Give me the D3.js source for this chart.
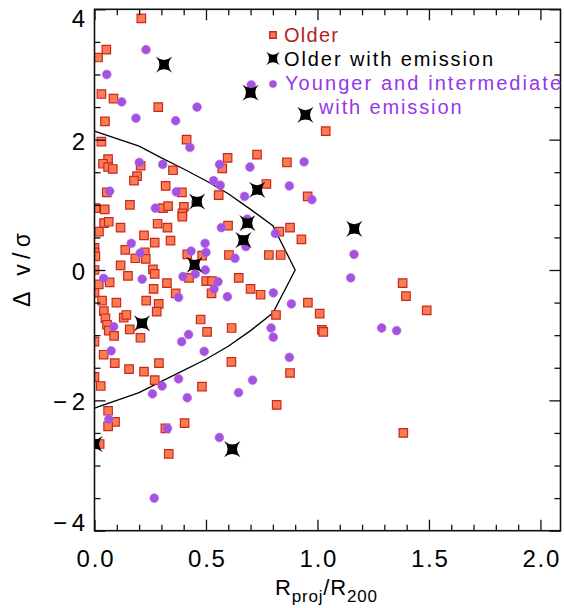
<!DOCTYPE html>
<html><head><meta charset="utf-8">
<script src="https://cdn.jsdelivr.net/npm/d3@7/dist/d3.min.js"></script>
<style>body{margin:0;background:#fff}svg{display:block}text{font-family:"Liberation Sans",Arial,sans-serif}</style>
</head><body><svg id="c" width="564" height="608"></svg>
<script>
// ---- data ----
const olderPts = [
[0.21,3.86],[0.053,3.38],[0.016,3.26],[0.031,2.70],[0.085,2.63],[0.286,2.50],[0.047,2.28],[0.031,1.97],[0.413,2.00],[0.729,1.77],
[0.597,1.72],[0.061,1.70],[0.038,1.63],[0.061,1.58],[0.082,1.55],[0.207,1.60],[0.352,1.53],[0.573,1.56],[0.863,1.65],[0.191,1.44],
[0.177,1.37],[0.319,1.29],[0.771,1.32],[0.055,1.19],[0.392,1.19],[0.557,1.15],[0.956,1.13],[0.004,0.95],[0.046,0.93],[0.159,1.00],
[0.307,0.95],[0.33,0.98],[0.401,0.97],[0.394,0.87],[0.394,0.82],[0.043,0.72],[0.064,0.74],[0.117,0.65],[0.283,0.71],[0.327,0.65],
[0.599,0.68],[0.02,0.59],[0.222,0.53],[0.877,0.65],[0.829,0.59],[0.928,0.47],[0.27,0.42],[0.341,0.45],[0,0.34],[0,0.27],
[0.004,0.21],[0.138,0.31],[0.226,0.27],[0.183,0.18],[0.23,0.17],[0.416,0.24],[0.483,0.22],[0.603,0.23],[0.782,0.23],[0.835,0.23],
[0.117,0.07],[0.262,0.01],
[0,0.0],[0.27,-0.06],[0.15,-0.09],[0.019,-0.22],[0.068,-0.19],[0,-0.35],[0.265,-0.29],[0.325,-0.20],[0.424,-0.12],[0.501,-0.17],
[0.527,-0.17],[0.525,-0.36],[0.647,-0.12],[0.70,-0.29],[0.745,-0.38],[0.364,-0.36],[0.034,-0.47],[0.098,-0.50],[0.232,-0.47],[0.288,-0.52],
[0.279,-0.64],[0.042,-0.63],[0.049,-0.74],[0.056,-0.84],[0.064,-0.93],[0.131,-0.73],[0.143,-0.69],[0.088,-1.01],[0.158,-0.91],[0.206,-1.04],
[0.476,-0.76],[0.505,-0.95],[0.615,-0.89],[0.814,-0.69],[0.957,-0.50],[1.01,-0.67],[0,-1.10],[0.041,-1.30],[0.091,-1.43],[0.155,-1.52],
[0.222,-1.56],[0.289,-1.43],[0.27,-1.69],[0,-1.64],[0.028,-1.78],[0.482,-1.79],[0.614,-1.41],[0.877,-1.58],[0.817,-2.07],[0.061,-2.16],
[0.092,-2.33],[0.061,-2.40],[0.318,-2.43],[0.404,-2.35],[0.023,-2.67],[0.333,-2.82],
[1.037,2.13],[1.382,-0.20],[1.397,-0.40],[1.49,-0.62],[1.02,-0.92],[1.026,-0.95],[1.385,-2.50]
];
const youngPts = [
[0.231,3.38],[0.055,3.00],[0.703,2.84],[0.122,2.58],[0.46,2.50],[0.186,2.33],[0.364,2.29],[0.428,1.88],[0.201,1.65],[0.306,1.62],
[0.561,1.62],[0.697,1.58],[0.94,1.66],[0.534,1.37],[0.564,1.30],[0.874,1.29],[0.068,1.21],[0.367,1.20],[0.673,1.13],[0.454,1.04],
[0.273,0.95],[0.685,0.78],[0.569,0.65],[0.811,0.56],[0.679,0.36],[0.165,0.41],[0.496,0.41],[0.205,0.26],[0.433,0.29],[0.5,0.27],
[0.63,0.18],[0.975,1.08],
[0.041,-0.13],[0.214,-0.14],[0.397,-0.10],[0.452,-0.06],[0.497,0.0],[0.554,-0.18],[0.536,-0.29],[0.377,-0.42],[0.596,-0.41],[0.802,-0.35],
[0.883,-0.52],[0.086,-0.87],[0.422,-0.99],[0.391,-1.10],[0.492,-1.25],[0.792,-0.89],[0.802,-1.03],[0.075,-1.24],[0.874,-1.34],[0.377,-1.67],
[0.303,-1.78],[0.26,-1.90],[0.416,-1.96],[0.646,-1.88],[0.709,-1.69],[0.064,-2.29],[0.327,-2.43],[0.56,-2.57],[0.268,-3.50],
[1.164,0.24],[1.149,-0.12],[1.288,-0.89],[1.355,-0.93]
];
const emissionPts = [
[0.312,3.15],[0.70,2.72],[0.946,2.38],[0.73,1.23],[0.46,1.05],[0.686,0.72],[0.668,0.46],[0.449,0.08],[1.165,0.63],[0.213,-0.82],
[0.0,-2.67],[0.618,-2.75]
];
const contourX = [0,0.2,0.3,0.4,0.5,0.6,0.7,0.8,0.9];
const contourUpper = [2.13,1.90,1.72,1.55,1.37,1.17,0.93,0.68,0];
const contourLower = [-2.12,-1.88,-1.71,-1.54,-1.37,-1.17,-0.93,-0.66,0];
const xTicks = [0,0.5,1,1.5,2];
const xTickLabels = ["0.0","0.5","1.0","1.5","2.0"];
const yTicks = [-4,-2,0,2,4];
const yTickLabels = ["\u22124","\u22122","0","2","4"];
const legendLabels = ["Older","Older with emission","Younger and intermediate","with emission"];

// ---- chart ----
const svg = d3.select("#c");
const xMax = 2.09;
const x = d3.scaleLinear().domain([0, xMax]).range([94.5, 560.5]);
const y = d3.scaleLinear().domain([-4, 4]).range([530.7, 9.3]);

const sqFill = "#ff7a4f", sqStroke = "#c42a23";
const circFill = "#a552e0";
// 4-pointed star with concave sides, tips on the diagonals
const starPath = (R, rc) => {
  const t = R / Math.SQRT2;
  const tips = [[t, t], [-t, t], [-t, -t], [t, -t]];
  const ctrl = [[0, rc], [-rc, 0], [0, -rc], [rc, 0]];
  let p = `M${tips[0][0].toFixed(2)},${tips[0][1].toFixed(2)}`;
  for (let i = 0; i < 4; i++) {
    const n = tips[(i + 1) % 4];
    p += `Q${ctrl[i][0].toFixed(2)},${ctrl[i][1].toFixed(2)} ${n[0].toFixed(2)},${n[1].toFixed(2)}`;
  }
  return p + "Z";
};

svg.append("defs").append("clipPath").attr("id", "clip").append("rect")
  .attr("x", x(0)).attr("y", y(4)).attr("width", x(xMax) - x(0)).attr("height", y(-4) - y(4));

const g = svg.append("g").attr("clip-path", "url(#clip)");

// contour line
const contourPts = contourX.map((v, i) => [v, contourUpper[i]])
  .concat(contourX.map((v, i) => [v, contourLower[i]]).reverse().slice(1));
g.append("path").datum(contourPts)
  .attr("d", d3.line().x(d => x(d[0])).y(d => y(d[1])))
  .attr("fill", "none").attr("stroke", "#000").attr("stroke-width", 1.3);

// squares
const sq = d3.symbol(d3.symbolSquare, 72);
g.selectAll(".sq").data(olderPts).join("path").attr("class", "sq")
  .attr("d", sq).attr("transform", d => `translate(${x(d[0])},${y(d[1])})`)
  .attr("fill", sqFill).attr("stroke", sqStroke).attr("stroke-width", 1.2);

// circles
g.selectAll(".ci").data(youngPts).join("circle").attr("class", "ci")
  .attr("cx", d => x(d[0])).attr("cy", d => y(d[1])).attr("r", 4.4)
  .attr("fill", circFill).attr("stroke", "#b56ae6").attr("stroke-width", 0.6);

// stars
g.selectAll(".st").data(emissionPts).join("path").attr("class", "st")
  .attr("d", starPath(11.5, 1.2)).attr("transform", d => `translate(${x(d[0])},${y(d[1])})`)
  .attr("fill", "#000");

// ---- axes ----
const axisColor = "#111";
const xMinor = d3.range(0, xMax + 1e-9, 0.1).map(v => +v.toFixed(2)).filter(v => !xTicks.some(t => Math.abs(t - v) < 1e-6));
const yMinor = d3.range(-4, 4.001, 0.5).filter(v => !yTicks.some(t => Math.abs(t - v) < 1e-6));

function styleAxis(sel) {
  sel.select(".domain").remove();
  sel.selectAll("line").attr("stroke", axisColor).attr("stroke-width", 1.3);
}

// bottom
const bAx = svg.append("g").attr("transform", `translate(0,${y(-4)})`)
  .call(d3.axisBottom(x).tickValues(xTicks).tickSizeInner(-11).tickSizeOuter(0).tickPadding(19.6)
    .tickFormat((d, i) => xTickLabels[i]));
styleAxis(bAx);
bAx.selectAll("text").attr("font-size", 24).attr("fill", "#000")
  .attr("font-family", "'Liberation Sans',Arial,sans-serif")
  .attr("textLength", 37).attr("lengthAdjust", "spacing");
svg.append("g").attr("transform", `translate(0,${y(-4)})`)
  .call(d3.axisBottom(x).tickValues(xMinor).tickSizeInner(-6).tickSizeOuter(0).tickFormat(""))
  .call(styleAxis);

// top
svg.append("g").attr("transform", `translate(0,${y(4)})`)
  .call(d3.axisTop(x).tickValues(xTicks).tickSizeInner(-11).tickSizeOuter(0).tickFormat(""))
  .call(styleAxis);
svg.append("g").attr("transform", `translate(0,${y(4)})`)
  .call(d3.axisTop(x).tickValues(xMinor).tickSizeInner(-6).tickSizeOuter(0).tickFormat(""))
  .call(styleAxis);

// left
const lAx = svg.append("g").attr("transform", `translate(${x(0)},0)`)
  .call(d3.axisLeft(y).tickValues(yTicks).tickSizeInner(-11).tickSizeOuter(0).tickPadding(9.5)
    .tickFormat((d, i) => yTickLabels[i]));
styleAxis(lAx);
lAx.selectAll("text").attr("font-size", 24).attr("fill", "#000")
  .attr("font-family", "'Liberation Sans',Arial,sans-serif")
  .attr("dy", d => d === 4 ? "17.4" : (d === -4 ? "0" : "9.5"))
  .each(function(d) { if (d < 0) d3.select(this).attr("textLength", 32).attr("lengthAdjust", "spacing"); });
svg.append("g").attr("transform", `translate(${x(0)},0)`)
  .call(d3.axisLeft(y).tickValues(yMinor).tickSizeInner(-6).tickSizeOuter(0).tickFormat(""))
  .call(styleAxis);

// right
svg.append("g").attr("transform", `translate(${x(xMax)},0)`)
  .call(d3.axisRight(y).tickValues(yTicks).tickSizeInner(-11).tickSizeOuter(0).tickFormat(""))
  .call(styleAxis);
svg.append("g").attr("transform", `translate(${x(xMax)},0)`)
  .call(d3.axisRight(y).tickValues(yMinor).tickSizeInner(-6).tickSizeOuter(0).tickFormat(""))
  .call(styleAxis);

// frame
svg.append("rect").attr("x", x(0)).attr("y", y(4)).attr("width", x(xMax) - x(0)).attr("height", y(-4) - y(4))
  .attr("fill", "none").attr("stroke", axisColor).attr("stroke-width", 1.6);

// axis titles
const xt = svg.append("text").attr("x", 275).attr("y", 594.5).attr("font-size", 22).attr("letter-spacing", 0.8);
xt.append("tspan").text("R");
xt.append("tspan").attr("font-size", 17).attr("dy", 7).text("proj");
xt.append("tspan").attr("dy", -7).text("/R");
xt.append("tspan").attr("font-size", 17).attr("dy", 7).text("200");

svg.append("text").attr("transform", "translate(30,270) rotate(-90)")
  .attr("text-anchor", "middle").attr("font-size", 23)
  .attr("textLength", 74).attr("lengthAdjust", "spacing").text("\u0394 v/\u03c3");

// ---- legend ----
const lg = svg.append("g");
lg.append("path").attr("d", d3.symbol(d3.symbolSquare, 42)).attr("transform", "translate(273,35)")
  .attr("fill", sqFill).attr("stroke", sqStroke).attr("stroke-width", 1.4);
lg.append("path").attr("d", starPath(9.5, 1)).attr("transform", "translate(273,58.5)").attr("fill", "#000");
lg.append("circle").attr("cx", 273).attr("cy", 84).attr("r", 3.8).attr("fill", circFill);

const legendRows = [
  {t: legendLabels[0], x: 284, y: 42.3, c: "#b3221f", w: 54},
  {t: legendLabels[1], x: 284, y: 66, c: "#000", w: 209},
  {t: legendLabels[2], x: 285, y: 90, c: "#9636e6", w: 276},
  {t: legendLabels[3], x: 319, y: 114, c: "#9636e6", w: 142.5}
];
lg.selectAll(".lt").data(legendRows).join("text").attr("class", "lt")
  .attr("x", d => d.x).attr("y", d => d.y).attr("fill", d => d.c).attr("font-size", 20)
  .attr("textLength", d => d.w).attr("lengthAdjust", "spacing").text(d => d.t);
</script>
</body></html>
